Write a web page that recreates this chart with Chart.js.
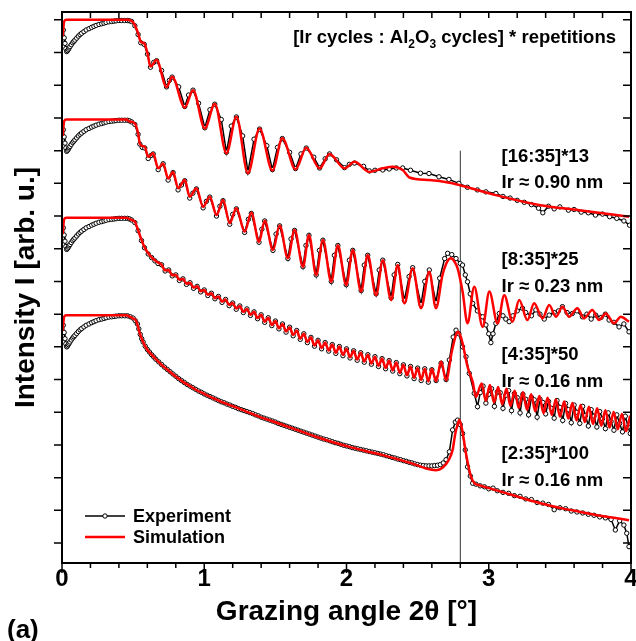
<!DOCTYPE html>
<html>
<head>
<meta charset="utf-8">
<script src="https://cdn.jsdelivr.net/npm/chart.js@4.4.1/dist/chart.umd.min.js"></script>
<style>
  html, body { margin: 0; padding: 0; background: #fff; }
  canvas { display: block; }
</style>
</head>
<body>
<canvas id="chart-xrr" width="636" height="641"></canvas>
<script>
// x = grazing angle 2theta [deg], y = log10 of intensity (curves shifted, arb. u.)
const xTicks = [0, 0.2, 0.4, 0.6, 0.8, 1, 1.2, 1.4, 1.6, 1.8, 2, 2.2, 2.4, 2.6, 2.8, 3, 3.2, 3.4, 3.6, 3.8, 4];
const yTicks = [0, 1, 2, 3, 4, 5, 6, 7, 8, 9, 10, 11, 12, 13, 14, 15, 16];
const sampleLabels = ["[16:35]*13", "[8:35]*25", "[4:35]*50", "[2:35]*100"];
const thicknessLabels = ["Ir \u2248 0.90 nm", "Ir \u2248 0.23 nm", "Ir \u2248 0.16 nm", "Ir \u2248 0.16 nm"];
const braggAngle = 2.8;
const braggLineTop = 12.0;

// [16:35]*13
const sim16 = [[0.005,15.5],[0.015,15.95],[0.03,16.0],[0.3,16.0],[0.45,16.0],[0.489,15.97],[0.512,15.84],[0.535,15.59],[0.554,15.33],[0.578,15.28],[0.601,14.98],[0.622,14.57],[0.665,14.77],[0.735,13.94],[0.774,14.26],[0.863,13.32],[0.921,13.85],[1.004,12.68],[1.074,13.43],[1.156,11.92],[1.226,13.04],[1.307,11.31],[1.389,12.68],[1.479,11.39],[1.549,12.38],[1.642,11.43],[1.717,12.09],[1.811,11.46],[1.881,11.9],[1.986,11.46],[2.056,11.66],[2.161,11.35],[2.255,11.46],[2.325,11.51],[2.395,11.41],[2.442,11.18],[2.582,11.1],[2.723,11.02],[2.793,10.95],[3.05,10.64],[3.354,10.34],[3.635,10.18],[3.986,9.98]];
const exp16 = [[0.009,15.69],[0.015,15.45],[0.021,15.28],[0.027,15.12],[0.033,15.03],[0.039,15.06],[0.045,15.1],[0.05,15.14],[0.056,15.18],[0.065,15.24],[0.075,15.3],[0.083,15.34],[0.091,15.38],[0.103,15.44],[0.115,15.5],[0.127,15.55],[0.138,15.59],[0.154,15.64],[0.17,15.69],[0.19,15.73],[0.208,15.77],[0.224,15.8],[0.24,15.83],[0.26,15.86],[0.279,15.88],[0.295,15.9],[0.31,15.92],[0.33,15.94],[0.349,15.95],[0.365,15.96],[0.38,15.97],[0.4,15.98],[0.419,15.98],[0.44,15.98],[0.46,15.98],[0.475,15.97],[0.489,15.95],[0.512,15.82],[0.535,15.55],[0.554,15.3],[0.578,15.25],[0.601,14.95],[0.622,14.55],[0.645,14.7],[0.665,14.75],[0.7,14.45],[0.735,13.95],[0.755,14.15],[0.774,14.25],[0.82,13.95],[0.863,13.35],[0.89,13.7],[0.921,13.85],[0.96,13.45],[1.004,12.7],[1.04,13.25],[1.074,13.42],[1.12,12.95],[1.156,11.95],[1.19,12.75],[1.226,13.03],[1.27,12.45],[1.307,11.35],[1.35,12.35],[1.389,12.66],[1.44,12.15],[1.479,11.42],[1.515,12.1],[1.549,12.37],[1.6,11.95],[1.642,11.45],[1.68,11.9],[1.717,12.08],[1.77,11.8],[1.811,11.47],[1.85,11.75],[1.881,11.9],[1.93,11.72],[1.986,11.48],[2.02,11.58],[2.056,11.62],[2.12,11.52],[2.161,11.38],[2.2,11.4],[2.255,11.41],[2.3,11.44],[2.35,11.47],[2.395,11.47],[2.45,11.4],[2.52,11.31],[2.58,11.3],[2.65,11.2],[2.72,11.12],[2.79,11.0],[2.85,10.88],[2.92,10.8],[2.98,10.74],[3.05,10.69],[3.1,10.6],[3.15,10.55],[3.2,10.48],[3.25,10.42],[3.3,10.35],[3.35,10.24],[3.38,10.1],[3.42,10.3],[3.46,10.22],[3.5,10.28],[3.56,10.18],[3.6,10.2],[3.65,10.12],[3.7,10.1],[3.75,10.03],[3.8,10.06],[3.85,9.98],[3.9,9.93],[3.95,9.85],[3.99,9.72]];

// [8:35]*25
const sim8 = [[0.005,12.45],[0.015,12.9],[0.03,12.95],[0.45,12.95],[0.477,12.89],[0.512,12.83],[0.535,12.53],[0.547,12.22],[0.564,12.14],[0.582,12.12],[0.606,11.81],[0.641,11.92],[0.676,11.46],[0.711,11.61],[0.746,11.15],[0.781,11.35],[0.816,10.85],[0.863,11.1],[0.898,10.59],[0.945,10.85],[0.992,10.28],[1.039,10.59],[1.086,10.03],[1.132,10.49],[1.179,9.78],[1.226,10.24],[1.284,9.52],[1.331,10.1],[1.385,9.21],[1.425,9.86],[1.483,8.96],[1.53,9.71],[1.588,8.71],[1.635,9.57],[1.694,8.45],[1.736,9.42],[1.787,8.2],[1.834,9.27],[1.893,7.99],[1.939,9.11],[1.998,7.89],[2.044,8.96],[2.103,7.69],[2.149,8.81],[2.208,7.58],[2.255,8.65],[2.314,7.43],[2.36,8.5],[2.407,7.33],[2.465,8.4],[2.524,7.18],[2.582,8.3],[2.629,7.18],[2.675,8.2],[2.71,8.62],[2.735,8.71],[2.76,8.6],[2.781,8.4],[2.816,7.69],[2.851,6.72],[2.898,7.84],[2.957,6.61],[3.004,7.69],[3.062,6.72],[3.109,7.58],[3.167,6.77],[3.214,7.43],[3.272,6.82],[3.319,7.33],[3.378,6.87],[3.425,7.28],[3.472,6.92],[3.518,7.23],[3.565,6.92],[3.623,7.18],[3.67,6.87],[3.728,7.13],[3.775,6.82],[3.822,7.02],[3.881,6.72],[3.928,6.92],[3.986,6.77]];
const exp8 = [[0.009,12.64],[0.015,12.42],[0.021,12.23],[0.027,12.08],[0.033,11.98],[0.039,12.01],[0.045,12.05],[0.05,12.09],[0.056,12.13],[0.065,12.19],[0.075,12.25],[0.083,12.29],[0.091,12.33],[0.103,12.39],[0.115,12.45],[0.127,12.5],[0.138,12.54],[0.154,12.59],[0.17,12.64],[0.19,12.68],[0.208,12.72],[0.224,12.75],[0.24,12.78],[0.26,12.81],[0.279,12.83],[0.295,12.85],[0.31,12.87],[0.33,12.89],[0.349,12.9],[0.365,12.91],[0.38,12.92],[0.4,12.93],[0.419,12.93],[0.44,12.93],[0.46,12.93],[0.475,12.91],[0.489,12.88],[0.512,12.8],[0.535,12.5],[0.547,12.2],[0.564,12.1],[0.582,12.08],[0.606,11.76],[0.625,11.85],[0.641,11.9],[0.676,11.42],[0.711,11.6],[0.746,11.1],[0.781,11.33],[0.816,10.8],[0.84,10.95],[0.863,11.08],[0.898,10.55],[0.92,10.7],[0.945,10.83],[0.992,10.25],[1.015,10.45],[1.039,10.58],[1.086,10.0],[1.11,10.3],[1.132,10.47],[1.179,9.75],[1.2,10.05],[1.226,10.22],[1.284,9.5],[1.31,9.9],[1.331,10.08],[1.385,9.2],[1.405,9.6],[1.425,9.85],[1.483,8.95],[1.505,9.45],[1.53,9.7],[1.588,8.7],[1.61,9.3],[1.635,9.56],[1.694,8.45],[1.715,9.1],[1.736,9.41],[1.787,8.2],[1.81,8.95],[1.834,9.26],[1.893,8.0],[1.915,8.8],[1.939,9.1],[1.998,7.9],[2.02,8.65],[2.044,8.95],[2.103,7.72],[2.125,8.5],[2.149,8.8],[2.208,7.62],[2.23,8.35],[2.255,8.65],[2.314,7.5],[2.335,8.2],[2.36,8.52],[2.407,7.42],[2.44,8.15],[2.465,8.42],[2.524,7.3],[2.55,8.0],[2.582,8.35],[2.629,7.35],[2.655,8.1],[2.69,8.7],[2.711,8.86],[2.74,8.82],[2.77,8.7],[2.8,8.55],[2.816,8.5],[2.835,8.2],[2.851,7.99],[2.87,7.62],[2.887,7.33],[2.92,7.1],[2.957,6.92],[2.98,6.67],[3.0,6.4],[3.015,6.13],[3.03,6.4],[3.05,6.72],[3.074,7.02],[3.1,6.95],[3.12,6.85],[3.144,6.77],[3.17,6.95],[3.2,7.1],[3.237,7.18],[3.26,7.05],[3.3,6.95],[3.331,7.13],[3.36,7.0],[3.39,6.85],[3.425,6.97],[3.46,7.05],[3.49,7.1],[3.518,7.23],[3.55,7.05],[3.588,7.02],[3.62,7.1],[3.658,6.92],[3.69,7.0],[3.72,6.85],[3.752,6.97],[3.79,6.9],[3.82,7.0],[3.846,6.82],[3.88,6.75],[3.916,6.61],[3.95,6.7],[3.986,6.46]];

// [4:35]*50
const sim4 = [[0.005,9.45],[0.015,9.9],[0.03,9.95],[0.45,9.95],[0.489,9.88],[0.512,9.83],[0.535,9.57],[0.559,9.27],[0.58,9.05],[0.606,8.86],[0.63,8.74],[0.653,8.65],[0.675,8.58],[0.7,8.51],[0.725,8.34],[0.75,8.35],[0.775,8.19],[0.8,8.2],[0.825,8.05],[0.85,8.08],[0.875,7.93],[0.9,7.96],[0.925,7.81],[0.95,7.85],[0.975,7.7],[1.0,7.74],[1.025,7.59],[1.05,7.64],[1.075,7.49],[1.1,7.54],[1.125,7.38],[1.15,7.45],[1.175,7.28],[1.2,7.34],[1.225,7.17],[1.25,7.25],[1.275,7.07],[1.3,7.16],[1.325,6.98],[1.35,7.07],[1.375,6.88],[1.4,6.98],[1.425,6.77],[1.45,6.89],[1.475,6.67],[1.5,6.79],[1.525,6.57],[1.55,6.7],[1.575,6.47],[1.6,6.6],[1.625,6.36],[1.65,6.5],[1.675,6.25],[1.7,6.4],[1.725,6.15],[1.75,6.29],[1.775,6.04],[1.8,6.2],[1.825,5.96],[1.85,6.13],[1.875,5.89],[1.9,6.07],[1.925,5.82],[1.95,6.01],[1.975,5.75],[2.0,5.94],[2.025,5.68],[2.05,5.88],[2.075,5.61],[2.1,5.82],[2.125,5.55],[2.15,5.76],[2.175,5.49],[2.2,5.7],[2.225,5.42],[2.25,5.64],[2.275,5.35],[2.3,5.58],[2.325,5.28],[2.35,5.52],[2.375,5.2],[2.4,5.45],[2.425,5.13],[2.45,5.4],[2.475,5.05],[2.5,5.35],[2.525,4.99],[2.55,5.33],[2.575,4.94],[2.6,5.32],[2.63,4.95],[2.665,5.55],[2.7,4.98],[2.74,5.85],[2.765,6.3],[2.781,6.46],[2.8,6.35],[2.816,6.11],[2.851,5.39],[2.887,4.93],[2.91,4.47],[2.95,4.88],[2.979,4.35],[3.008,4.83],[3.037,4.3],[3.066,4.77],[3.095,4.24],[3.124,4.72],[3.153,4.19],[3.182,4.66],[3.211,4.13],[3.24,4.61],[3.269,4.08],[3.298,4.55],[3.327,4.03],[3.356,4.5],[3.385,3.97],[3.414,4.44],[3.443,3.92],[3.472,4.39],[3.501,3.86],[3.53,4.33],[3.559,3.81],[3.588,4.28],[3.617,3.75],[3.646,4.22],[3.675,3.7],[3.704,4.17],[3.733,3.64],[3.762,4.12],[3.791,3.59],[3.82,4.06],[3.849,3.53],[3.878,4.01],[3.907,3.48],[3.936,3.95],[3.965,3.42],[3.994,3.9]];
const exp4 = [[0.009,9.64],[0.015,9.42],[0.021,9.23],[0.027,9.07],[0.033,8.98],[0.039,9.01],[0.045,9.05],[0.05,9.09],[0.056,9.13],[0.065,9.19],[0.075,9.25],[0.083,9.29],[0.091,9.33],[0.103,9.39],[0.115,9.45],[0.127,9.5],[0.138,9.54],[0.154,9.59],[0.17,9.64],[0.19,9.68],[0.208,9.72],[0.224,9.75],[0.24,9.78],[0.26,9.81],[0.279,9.83],[0.295,9.85],[0.31,9.87],[0.33,9.89],[0.349,9.9],[0.365,9.91],[0.38,9.92],[0.4,9.93],[0.419,9.93],[0.44,9.93],[0.46,9.93],[0.475,9.91],[0.489,9.88],[0.512,9.8],[0.535,9.55],[0.559,9.25],[0.58,9.03],[0.606,8.84],[0.63,8.73],[0.653,8.63],[0.675,8.55],[0.7,8.51],[0.725,8.32],[0.75,8.35],[0.775,8.17],[0.8,8.2],[0.825,8.03],[0.85,8.08],[0.875,7.91],[0.9,7.96],[0.925,7.79],[0.95,7.85],[0.975,7.68],[1.0,7.74],[1.025,7.57],[1.05,7.64],[1.075,7.47],[1.1,7.54],[1.125,7.36],[1.15,7.45],[1.175,7.26],[1.2,7.34],[1.225,7.15],[1.25,7.25],[1.275,7.05],[1.3,7.16],[1.325,6.96],[1.35,7.07],[1.375,6.86],[1.4,6.98],[1.425,6.75],[1.45,6.89],[1.475,6.65],[1.5,6.79],[1.525,6.55],[1.55,6.7],[1.575,6.45],[1.6,6.6],[1.625,6.34],[1.65,6.5],[1.675,6.23],[1.7,6.4],[1.725,6.13],[1.75,6.29],[1.775,6.02],[1.8,6.2],[1.825,5.94],[1.85,6.13],[1.875,5.87],[1.9,6.07],[1.925,5.8],[1.95,6.01],[1.975,5.73],[2.0,5.94],[2.025,5.66],[2.05,5.88],[2.075,5.59],[2.1,5.82],[2.125,5.53],[2.15,5.76],[2.175,5.47],[2.2,5.7],[2.225,5.4],[2.25,5.64],[2.275,5.33],[2.3,5.58],[2.325,5.26],[2.35,5.52],[2.375,5.18],[2.4,5.45],[2.425,5.11],[2.45,5.4],[2.475,5.03],[2.5,5.35],[2.525,4.97],[2.55,5.33],[2.575,4.92],[2.6,5.3],[2.63,4.97],[2.665,5.5],[2.7,5.0],[2.723,5.6],[2.75,6.3],[2.77,6.51],[2.79,6.4],[2.816,6.0],[2.84,5.7],[2.863,5.19],[2.898,4.58],[2.921,4.17],[2.94,4.6],[2.96,4.8],[2.98,4.28],[3.0,4.55],[3.02,4.72],[3.04,4.18],[3.06,4.62],[3.08,4.6],[3.1,4.12],[3.12,4.52],[3.14,4.66],[3.16,4.05],[3.18,4.57],[3.2,4.45],[3.22,3.98],[3.24,4.55],[3.26,4.4],[3.28,3.92],[3.3,4.46],[3.32,4.38],[3.34,3.85],[3.36,4.4],[3.38,4.3],[3.4,3.95],[3.42,4.33],[3.44,4.12],[3.46,3.82],[3.48,4.36],[3.5,4.15],[3.52,3.75],[3.54,4.27],[3.56,4.08],[3.58,3.68],[3.6,4.22],[3.62,4.0],[3.64,3.66],[3.66,4.18],[3.68,3.9],[3.7,3.58],[3.72,4.08],[3.74,3.88],[3.76,3.55],[3.78,4.02],[3.8,3.8],[3.82,3.5],[3.84,3.98],[3.86,3.72],[3.88,3.45],[3.9,3.92],[3.92,3.66],[3.94,3.4],[3.96,3.88],[3.98,3.55],[3.995,3.35]];

// [2:35]*100
const sim2 = [[0.005,6.5],[0.015,6.92],[0.03,6.97],[0.45,6.97],[0.477,6.92],[0.5,6.87],[0.524,6.77],[0.547,6.41],[0.57,6.15],[0.594,5.95],[0.63,5.76],[0.665,5.6],[0.71,5.41],[0.758,5.24],[0.8,5.09],[0.851,4.93],[0.9,4.8],[0.945,4.68],[1.0,4.56],[1.062,4.43],[1.12,4.32],[1.179,4.22],[1.24,4.12],[1.296,4.02],[1.389,3.86],[1.47,3.74],[1.553,3.61],[1.67,3.43],[1.787,3.25],[1.9,3.09],[2.021,2.94],[2.14,2.81],[2.255,2.69],[2.37,2.55],[2.489,2.39],[2.56,2.28],[2.629,2.23],[2.675,2.3],[2.72,2.55],[2.746,2.85],[2.765,3.35],[2.781,3.62],[2.793,3.76],[2.805,3.62],[2.816,3.4],[2.84,2.74],[2.875,2.03],[2.9,1.83],[2.933,1.77],[3.05,1.62],[3.17,1.46],[3.284,1.31],[3.4,1.18],[3.518,1.06],[3.635,0.96],[3.752,0.86],[3.87,0.78],[3.986,0.7]];
const exp2 = [[0.009,6.66],[0.015,6.44],[0.021,6.25],[0.027,6.09],[0.033,6.0],[0.039,6.03],[0.045,6.07],[0.05,6.11],[0.056,6.15],[0.065,6.21],[0.075,6.27],[0.083,6.31],[0.091,6.35],[0.103,6.41],[0.115,6.47],[0.127,6.52],[0.138,6.56],[0.154,6.61],[0.17,6.66],[0.19,6.7],[0.208,6.74],[0.224,6.77],[0.24,6.8],[0.26,6.83],[0.279,6.85],[0.295,6.87],[0.31,6.89],[0.33,6.91],[0.349,6.92],[0.365,6.93],[0.38,6.94],[0.4,6.95],[0.419,6.95],[0.44,6.95],[0.46,6.95],[0.48,6.92],[0.5,6.88],[0.515,6.8],[0.53,6.7],[0.54,6.55],[0.55,6.38],[0.56,6.25],[0.57,6.15],[0.585,6.02],[0.6,5.92],[0.615,5.84],[0.63,5.76],[0.645,5.69],[0.66,5.62],[0.68,5.54],[0.7,5.46],[0.72,5.38],[0.74,5.31],[0.76,5.24],[0.78,5.17],[0.8,5.1],[0.82,5.03],[0.84,4.97],[0.86,4.91],[0.88,4.85],[0.9,4.8],[0.92,4.75],[0.94,4.7],[0.96,4.65],[0.98,4.61],[1.0,4.56],[1.02,4.52],[1.04,4.48],[1.06,4.44],[1.08,4.4],[1.1,4.36],[1.12,4.32],[1.14,4.29],[1.16,4.25],[1.18,4.22],[1.2,4.18],[1.22,4.15],[1.24,4.11],[1.26,4.08],[1.28,4.05],[1.3,4.02],[1.32,3.99],[1.34,3.96],[1.36,3.92],[1.38,3.89],[1.4,3.85],[1.42,3.82],[1.44,3.79],[1.46,3.76],[1.48,3.73],[1.5,3.7],[1.52,3.66],[1.54,3.63],[1.56,3.6],[1.58,3.57],[1.6,3.54],[1.62,3.51],[1.64,3.48],[1.66,3.45],[1.68,3.42],[1.7,3.39],[1.72,3.36],[1.74,3.33],[1.76,3.3],[1.78,3.27],[1.8,3.24],[1.82,3.21],[1.84,3.18],[1.86,3.16],[1.88,3.13],[1.9,3.1],[1.92,3.07],[1.94,3.05],[1.96,3.02],[1.98,2.99],[2.0,2.97],[2.02,2.95],[2.04,2.92],[2.06,2.9],[2.08,2.88],[2.1,2.86],[2.12,2.84],[2.14,2.82],[2.16,2.8],[2.18,2.78],[2.2,2.76],[2.22,2.74],[2.24,2.72],[2.26,2.7],[2.28,2.67],[2.3,2.65],[2.32,2.62],[2.34,2.6],[2.36,2.57],[2.38,2.55],[2.4,2.52],[2.42,2.5],[2.44,2.47],[2.46,2.45],[2.48,2.42],[2.5,2.4],[2.52,2.38],[2.54,2.37],[2.56,2.36],[2.58,2.36],[2.6,2.36],[2.62,2.37],[2.64,2.38],[2.66,2.4],[2.68,2.45],[2.7,2.55],[2.723,2.79],[2.746,3.46],[2.765,3.7],[2.781,3.76],[2.8,3.62],[2.816,3.35],[2.835,2.85],[2.851,2.33],[2.87,2.05],[2.887,1.83],[2.91,1.8],[2.94,1.75],[2.97,1.72],[3.0,1.66],[3.03,1.68],[3.06,1.6],[3.1,1.55],[3.14,1.52],[3.18,1.45],[3.22,1.43],[3.26,1.35],[3.3,1.33],[3.34,1.24],[3.38,1.22],[3.42,1.18],[3.46,1.02],[3.5,1.08],[3.54,1.05],[3.58,0.98],[3.62,0.95],[3.66,0.92],[3.7,0.88],[3.74,0.85],[3.78,0.8],[3.82,0.77],[3.86,0.72],[3.89,0.4],[3.92,0.68],[3.95,0.55],[3.97,0.3],[3.986,-0.11]];

const simSets = [sim16, sim8, sim4, sim2];
const expSets = [exp16, exp8, exp4, exp2];

const FONT = "'Liberation Sans', Arial, sans-serif";
const toXY = (arr) => arr.map((p) => ({ x: p[0], y: p[1] }));

// frame, ticks, labels, legend
const frameAndText = {
  id: "frameAndText",
  afterDraw(chart) {
    const { ctx, chartArea: { left, right, top, bottom }, scales: { x, y } } = chart;
    ctx.save();
    ctx.strokeStyle = "#000";
    ctx.lineWidth = 1.5;
    ctx.beginPath();
    xTicks.forEach((v) => {
      const px = x.getPixelForValue(v);
      const major = Math.abs(v - Math.round(v)) < 1e-6;
      ctx.moveTo(px, bottom);
      ctx.lineTo(px, bottom + (major ? 10 : 5));
      ctx.moveTo(px, top);
      ctx.lineTo(px, top + 6);
    });
    yTicks.forEach((v) => {
      const py = y.getPixelForValue(v);
      ctx.moveTo(left, py);
      ctx.lineTo(left - 8, py);
      ctx.moveTo(right, py);
      ctx.lineTo(right - 8, py);
    });
    ctx.stroke();
    ctx.lineWidth = 2;
    ctx.strokeRect(left, top, right - left, bottom - top);

    // texts
    ctx.fillStyle = "#000";
    ctx.textBaseline = "alphabetic";
    ctx.textAlign = "left";
    const big = "bold 18.5px " + FONT;
    const small = "bold 12px " + FONT;
    const parts = [["[Ir cycles : Al", big, 0], ["2", small, 5], ["O", big, 0], ["3", small, 5], [" cycles] * repetitions", big, 0]];
    let total = 0;
    parts.forEach((p) => { ctx.font = p[1]; total += ctx.measureText(p[0]).width; });
    let tx = 616 - total;
    parts.forEach((p) => {
      ctx.font = p[1];
      ctx.fillText(p[0], tx, 43 + p[2]);
      tx += ctx.measureText(p[0]).width;
    });

    ctx.font = big;
    const labelBase = [161.5, 265, 360, 459];
    sampleLabels.forEach((s, i) => {
      ctx.fillText(s, 501.5, labelBase[i]);
      ctx.fillText(thicknessLabels[i], 501.5, labelBase[i] + 26.5);
    });

    // legend
    ctx.font = "bold 18px " + FONT;
    ctx.fillText("Experiment", 133, 522);
    ctx.fillText("Simulation", 133, 543);
    ctx.lineWidth = 1.5;
    ctx.beginPath();
    ctx.moveTo(85, 516);
    ctx.lineTo(125, 516);
    ctx.stroke();
    ctx.fillStyle = "#fff";
    ctx.lineWidth = 1;
    ctx.beginPath();
    ctx.arc(105, 516, 2.2, 0, Math.PI * 2);
    ctx.fill();
    ctx.stroke();
    ctx.strokeStyle = "#ff0000";
    ctx.lineWidth = 2.5;
    ctx.beginPath();
    ctx.moveTo(85, 537);
    ctx.lineTo(125, 537);
    ctx.stroke();

    ctx.fillStyle = "#000";
    ctx.font = "bold 26px " + FONT;
    ctx.fillText("(a)", 7, 638);
    ctx.restore();
  },
};

const datasets = [];
simSets.forEach((s) => {
  datasets.push({
    data: toXY(s),
    borderColor: "#ff0000",
    borderWidth: 2.5,
    pointRadius: 0,
    cubicInterpolationMode: "monotone",
    order: 0,
  });
});
expSets.forEach((s) => {
  datasets.push({
    data: toXY(s),
    borderColor: "#000",
    borderWidth: 1.5,
    pointRadius: 2.2,
    pointBorderWidth: 1,
    pointBorderColor: "#000",
    pointBackgroundColor: "#fff",
    tension: 0,
    order: 1,
  });
});
datasets.push({
  data: [{ x: braggAngle, y: -1 }, { x: braggAngle, y: braggLineTop }],
  borderColor: "#333",
  borderWidth: 1,
  pointRadius: 0,
  order: 2,
});

const ctx = document.querySelector("#chart-xrr").getContext("2d");
new Chart(ctx, {
  type: "line",
  data: { datasets },
  options: {
    responsive: false,
    animation: false,
    devicePixelRatio: 1,
    layout: { padding: { left: 0, right: 4, top: 12, bottom: 0 } },
    plugins: { legend: { display: false }, tooltip: { enabled: false } },
    scales: {
      x: {
        type: "linear",
        min: 0,
        max: 4,
        afterFit(scale) {
          scale.height = 78;
          scale.paddingLeft = 0;
          scale.paddingRight = 0;
        },
        grid: { display: false, drawTicks: false },
        border: { display: false },
        ticks: { stepSize: 1, padding: 2, color: "#000", maxRotation: 0, autoSkip: false, font: { family: FONT, size: 24, weight: "bold" } },
        title: { display: true, text: "Grazing angle 2\u03b8 [\u00b0]", color: "#000", font: { family: FONT, size: 28, weight: "bold" }, padding: { top: 0, bottom: 12 } },
      },
      y: {
        type: "linear",
        min: -0.61,
        max: 16.24,
        afterFit(scale) {
          scale.width = 62;
        },
        grid: { display: false, drawTicks: false },
        border: { display: false },
        ticks: { display: false },
        title: { display: true, text: "Intensity I [arb. u.]", color: "#000", font: { family: FONT, size: 28, weight: "bold" }, padding: { top: 9, bottom: 0 } },
      },
    },
  },
  plugins: [frameAndText],
});
</script>
</body>
</html>
